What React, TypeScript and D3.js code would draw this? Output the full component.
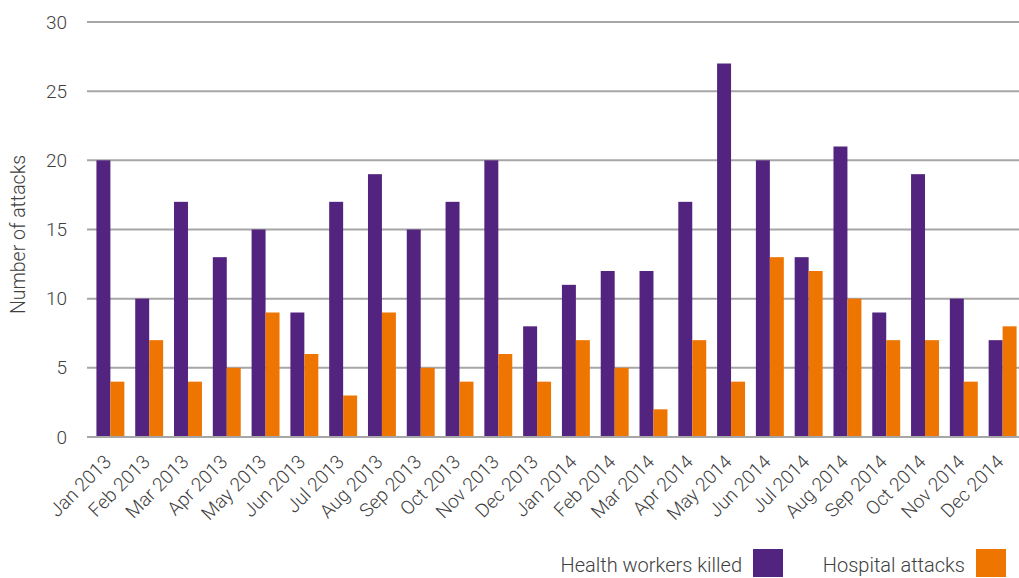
import React from 'react'
import * as d3 from 'd3'

const months = [
  'Jan 2013', 'Feb 2013', 'Mar 2013', 'Apr 2013', 'May 2013', 'Jun 2013',
  'Jul 2013', 'Aug 2013', 'Sep 2013', 'Oct 2013', 'Nov 2013', 'Dec 2013',
  'Jan 2014', 'Feb 2014', 'Mar 2014', 'Apr 2014', 'May 2014', 'Jun 2014',
  'Jul 2014', 'Aug 2014', 'Sep 2014', 'Oct 2014', 'Nov 2014', 'Dec 2014',
]
const workersKilled = [20, 10, 17, 13, 15, 9, 17, 19, 15, 17, 20, 8, 11, 12, 12, 17, 27, 20, 13, 21, 9, 19, 10, 7]
const hospitalAttacks = [4, 7, 4, 5, 9, 6, 3, 9, 5, 4, 6, 4, 7, 5, 2, 7, 4, 13, 12, 10, 7, 7, 4, 8]
const yTicks = [0, 5, 10, 15, 20, 25, 30]
const seriesNames = ['Health workers killed', 'Hospital attacks']

const W = 1019
const H = 578
const PURPLE = '#52247f'
const ORANGE = '#ee7500'
const GRID = '#a6a6a6'
const TEXT = '#404040'
const FONT = 'Roboto, "DejaVu Sans", sans-serif'

export default function App() {
  const x = d3.scaleBand<string>()
    .domain(months)
    .range([91, 1022])
    .paddingInner(0.28)
    .paddingOuter(0.14)

  const y = d3.scaleLinear().domain([0, 30]).range([437, 22])

  const sub = d3.scaleBand<number>()
    .domain([0, 1])
    .range([0, x.bandwidth()])

  const series = [workersKilled, hospitalAttacks]
  const colors = [PURPLE, ORANGE]

  return (
    <svg
      width={W}
      height={H}
      style={{ position: 'absolute', left: 0, top: 0, background: '#fff' }}
      fontFamily={FONT}
    >
      {/* gridlines */}
      {yTicks.map(t => (
        <line
          key={t}
          x1={87}
          x2={W}
          y1={y(t)}
          y2={y(t)}
          stroke={GRID}
          strokeWidth={2}
        />
      ))}

      {/* y tick labels */}
      {yTicks.map(t => (
        <text
          key={t}
          x={67}
          y={y(t)}
          dy="0.35em"
          textAnchor="end"
          fontSize={19}
          fontWeight={300}
          fill={TEXT}
        >
          {t}
        </text>
      ))}

      <text
        transform={`translate(25,${y(15) + 5}) rotate(-90)`}
        textAnchor="middle"
        fontSize={19.5}
        fontWeight={300}
        fill={TEXT}
      >
        Number of attacks
      </text>

      {/* bars */}
      {months.map((m, i) => (
        <g key={m} transform={`translate(${x(m)},0)`}>
          {series.map((s, j) => (
            <rect
              key={j}
              x={sub(j)}
              y={y(s[i])}
              width={sub.bandwidth()}
              height={y(0) - y(s[i])}
              fill={colors[j]}
            />
          ))}
        </g>
      ))}

      {/* baseline */}
      <line x1={87} x2={W} y1={y(0)} y2={y(0)} stroke={GRID} strokeWidth={2} />

      {/* x labels */}
      {months.map(m => (
        <text
          key={m}
          transform={`translate(${x(m)! + x.bandwidth() / 2 + 2},463) rotate(-45)`}
          textAnchor="end"
          fontSize={19}
          fontWeight={300}
          fill={TEXT}
        >
          {m}
        </text>
      ))}

      {/* legend */}
      <text x={742} y={572} textAnchor="end" fontSize={20} fontWeight={300} fill={TEXT}>
        {seriesNames[0]}
      </text>
      <rect x={753} y={549} width={30} height={28} fill={PURPLE} />
      <text x={965} y={572} textAnchor="end" fontSize={20} fontWeight={300} fill={TEXT}>
        {seriesNames[1]}
      </text>
      <rect x={976} y={549} width={30} height={28} fill={ORANGE} />
    </svg>
  )
}
